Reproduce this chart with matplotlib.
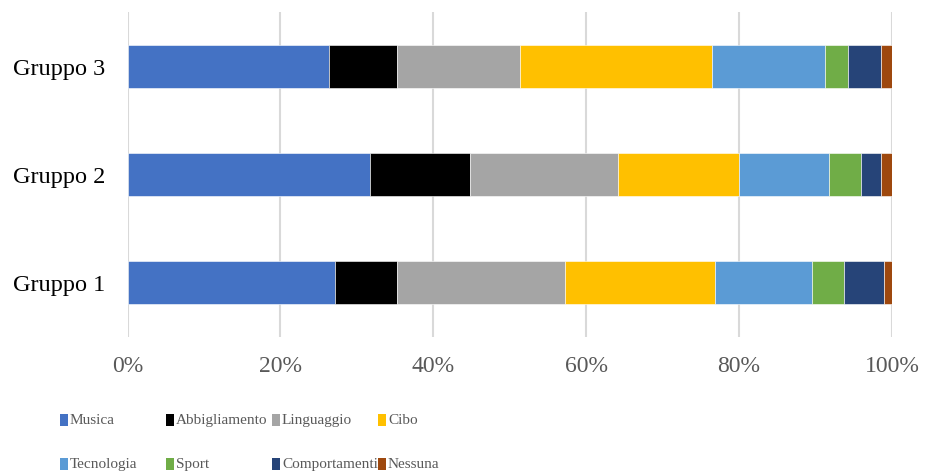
import matplotlib
matplotlib.use("Agg")
import matplotlib.pyplot as plt
from matplotlib.patches import Rectangle
import numpy as np

groups = ["Gruppo 1", "Gruppo 2", "Gruppo 3"]
categories = ["Musica", "Abbigliamento", "Linguaggio", "Cibo",
              "Tecnologia", "Sport", "Comportamenti", "Nessuna"]

# share of answers per category (%), one list per group
gruppo_1 = [27.1, 8.15, 21.95, 19.7, 12.7, 4.1, 5.2, 1.1]
gruppo_2 = [31.7, 13.1, 19.4, 15.8, 11.8, 4.1, 2.7, 1.4]
gruppo_3 = [26.4, 8.85, 16.15, 25.0, 14.8, 3.0, 4.4, 1.4]

x_ticks = [0, 20, 40, 60, 80, 100]
x_tick_labels = ["0%", "20%", "40%", "60%", "80%", "100%"]

colors = ["#4472C4", "#000000", "#A5A5A5", "#FFC000",
          "#5B9BD5", "#70AD47", "#264478", "#9E480E"]

plt.rcParams["font.family"] = ["Liberation Serif", "DejaVu Serif"]

W, H = 925, 477
fig = plt.figure(figsize=(W / 100, H / 100), dpi=100)
ax = fig.add_axes([127.5 / W, 1 - 337.5 / H, (892 - 127.5) / W, (337.5 - 13.3) / H])

data = np.array([gruppo_1, gruppo_2, gruppo_3])
y = np.arange(len(groups))
left = np.zeros(len(groups))
for i, cat in enumerate(categories):
    ax.barh(y, data[:, i], left=left, height=0.4, color=colors[i],
            edgecolor="white", linewidth=0.4, label=cat, zorder=3)
    left += data[:, i]

ax.set_xlim(0, 100)
ax.set_ylim(-0.5, 2.5)
ax.set_xticks(x_ticks)
ax.set_xticklabels(x_tick_labels)
ax.set_yticks(y)
ax.set_yticklabels(groups)
ax.xaxis.grid(True, color="#D9D9D9", linewidth=1.5, zorder=0)
ax.set_axisbelow(True)
for s in ax.spines.values():
    s.set_visible(False)
ax.tick_params(axis="x", length=0, pad=13, labelsize=17, labelcolor="#595959")
ax.tick_params(axis="y", length=0, pad=16, labelsize=17.5, labelcolor="#000000")

# legend laid out in a fixed 4-column grid below the plot
col_x = [60, 166, 272, 378]
row_y = [420.5, 464.5]
for i, cat in enumerate(categories):
    r, c = divmod(i, 4)
    cx, cy = col_x[c], row_y[r]
    fig.patches.append(Rectangle((cx / W, 1 - (cy + 6) / H), 8 / W, 12 / H,
                                 transform=fig.transFigure, facecolor=colors[i],
                                 edgecolor="none"))
    fig.text((cx + 10) / W, 1 - cy / H, cat, ha="left", va="center",
             fontsize=11, color="#595959")

fig.savefig("out.png", dpi=100)
